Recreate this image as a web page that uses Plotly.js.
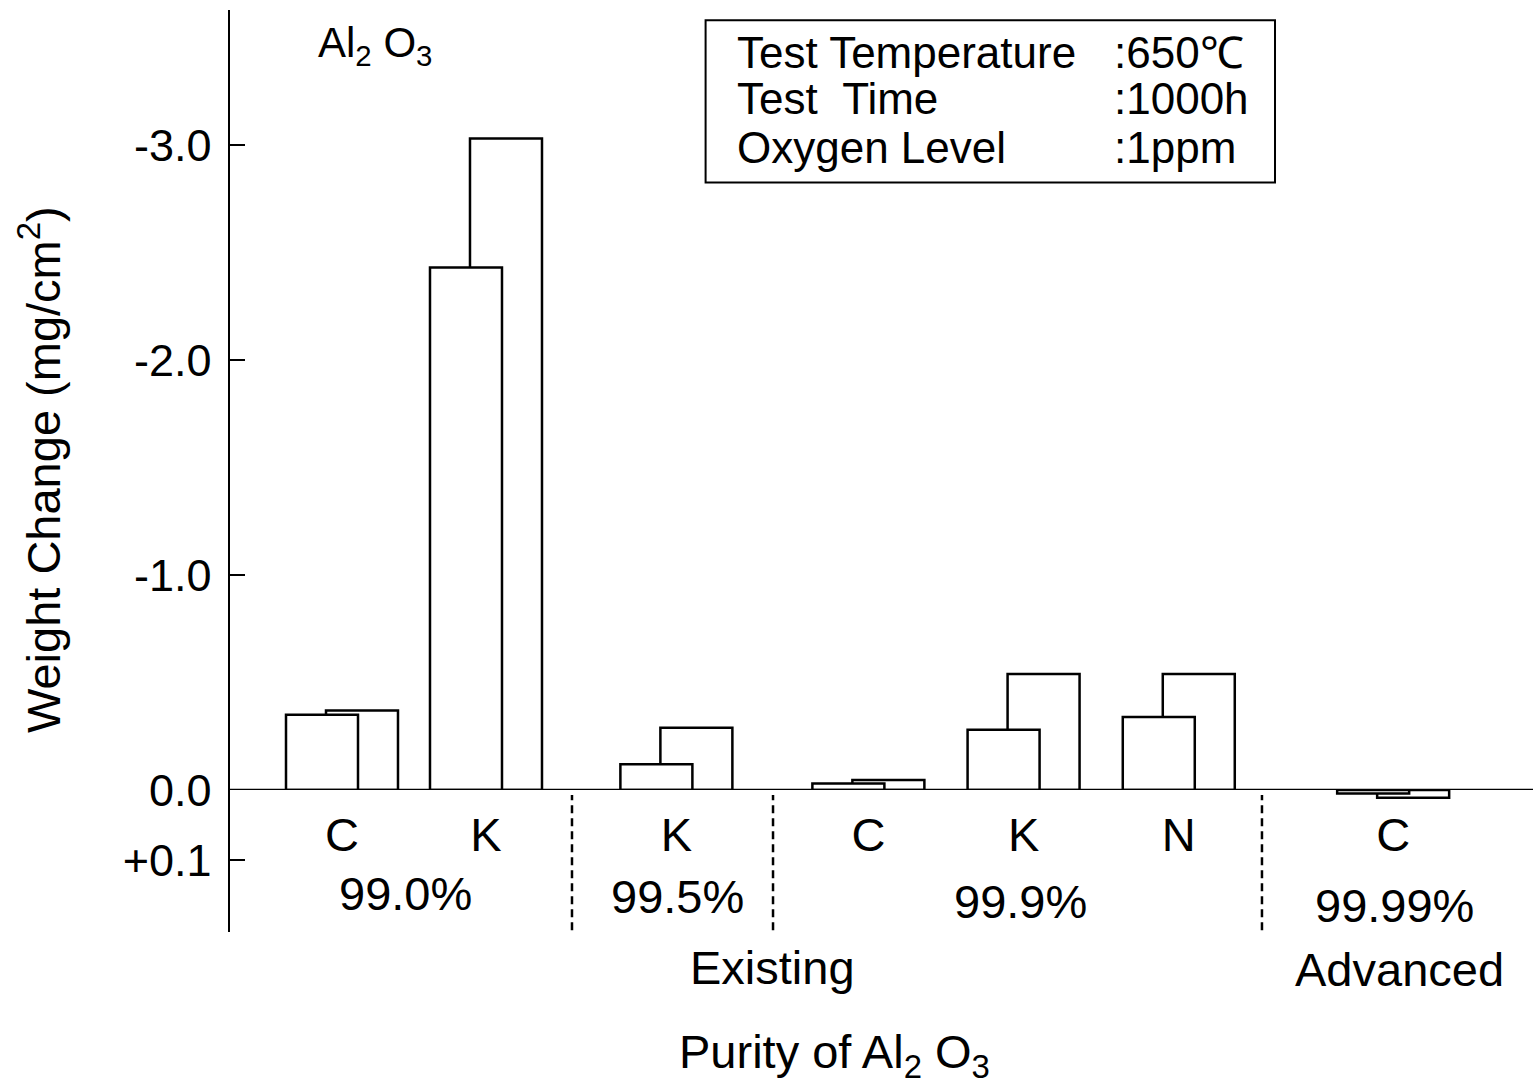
<!DOCTYPE html>
<html>
<head>
<meta charset="utf-8">
<script src="https://cdn.plot.ly/plotly-3.0.1.min.js"></script>
<style>html,body{margin:0;padding:0;background:#fff;}#chart{width:1533px;height:1091px;}</style>
</head>
<body>
<div id="chart"></div>
<script>
// ---- data ----
const categories = ['C', 'K', 'K', 'C', 'K', 'N', 'C'];
const purityGroups = ['99.0%', '99.5%', '99.9%', '99.99%'];
const classGroups = ['Existing', 'Advanced'];
// weight change (mg/cm2); negative = weight loss (drawn upward)
const seriesFront = [-0.35, -2.43, -0.12, -0.03, -0.28, -0.34, 0.005];
const seriesBack  = [-0.37, -3.03, -0.29, -0.047, -0.54, -0.54, 0.011];
const yTickVals = [-3, -2, -1, 0];
const yTickText = ['-3.0', '-2.0', '-1.0', '0.0'];
const y2TickVals = [0.1];
const y2TickText = ['+0.1'];
const xTitle = 'Purity of Al<sub>2</sub> O<sub>3</sub>';
const yTitle = 'Weight Change (mg/cm<sup>2</sup>)';

// ---- layout positions (not data) ----
const xPos = [0.70, 1.60, 2.79, 3.99, 4.96, 5.93, 7.27];
const purityLabelPos = [[1.094, 0.042], [2.794, 0.038], [4.94, 0.033], [7.28, 0.029]];
const classLabelPos = [[3.39, -0.038], [7.31, -0.041]];
const separators = [2.1375, 3.394, 6.45];

const FONT = 'Liberation Sans, Arial, sans-serif';
const barLine = {color: '#000', width: 2.5};

function neg(a) { return a.map(v => v <= 0 ? v : null); }
function pos(a) { return a.map(v => v > 0 ? v : null); }

const common = {type: 'bar', x: xPos, width: 0.45, marker: {color: '#fff', line: barLine}, hoverinfo: 'y', showlegend: false};
const traces = [
  Object.assign({}, common, {y: neg(seriesBack), offset: -0.1, yaxis: 'y', name: 'back'}),
  Object.assign({}, common, {y: pos(seriesBack), offset: -0.1, yaxis: 'y2', name: 'back+'}),
  Object.assign({}, common, {y: neg(seriesFront), offset: -0.35, yaxis: 'y', name: 'front'}),
  Object.assign({}, common, {y: pos(seriesFront), offset: -0.35, yaxis: 'y2', name: 'front+'})
];

const annotations = [];
purityGroups.forEach((t, i) => annotations.push({text: t, x: purityLabelPos[i][0], y: purityLabelPos[i][1], xref: 'x', yref: 'paper', showarrow: false, xanchor: 'center', yanchor: 'middle', font: {size: 47}}));
classGroups.forEach((t, i) => annotations.push({text: t, x: classLabelPos[i][0], y: classLabelPos[i][1], xref: 'x', yref: 'paper', showarrow: false, xanchor: 'center', yanchor: 'middle', font: {size: 47}}));
annotations.push({text: 'Al<sub>2</sub> O<sub>3</sub>', x: 0.906, y: 0.962, xref: 'x', yref: 'paper', showarrow: false, xanchor: 'center', yanchor: 'middle', font: {size: 42}});
annotations.push({text: xTitle, x: 0.4643, y: -0.1334, xref: 'paper', yref: 'paper', showarrow: false, xanchor: 'center', yanchor: 'middle', font: {size: 47}});
annotations.push({text: yTitle, x: -0.1458, y: 0.501, xref: 'paper', yref: 'paper', showarrow: false, xanchor: 'center', yanchor: 'middle', textangle: -90, font: {size: 47}});
const boxLeft = ['Test Temperature', 'Test&nbsp;&nbsp;Time', 'Oxygen Level'];
const boxRight = [':650℃', ':1000h', ':1ppm'];
const boxY = [0.954, 0.9045, 0.851];
boxLeft.forEach((t, i) => {
  annotations.push({text: t, x: 0.3876, y: boxY[i], xref: 'paper', yref: 'paper', showarrow: false, xanchor: 'left', yanchor: 'middle', font: {size: 44}});
  annotations.push({text: boxRight[i], x: 0.677, y: boxY[i], xref: 'paper', yref: 'paper', showarrow: false, xanchor: 'left', yanchor: 'middle', font: {size: 44}});
});

const shapes = [
  {type: 'line', xref: 'paper', yref: 'y', x0: 0, x1: 1, y0: 0, y1: 0, line: {color: '#000', width: 2.5}},
  {type: 'rect', xref: 'paper', yref: 'paper', x0: 0.365, x1: 0.802, y0: 0.813, y1: 0.989, line: {color: '#000', width: 2}}
];
separators.forEach(x => shapes.push({type: 'line', xref: 'x', yref: 'paper', x0: x, x1: x, y0: 0.002, y1: 0.1486, line: {color: '#000', width: 2.5, dash: '8px,5px'}}));

const axisCommon = {showgrid: false, zeroline: false, showline: true, linecolor: '#000', linewidth: 2.5, ticks: 'inside', ticklen: 15, tickwidth: 2.5, tickcolor: '#000', tickfont: {size: 45}, ticklabelstandoff: 7};

const layout = {
  width: 1533, height: 1091,
  margin: {l: 230, r: 0, t: 10, b: 159},
  paper_bgcolor: '#fff', plot_bgcolor: '#fff',
  font: {family: FONT, color: '#000'},
  barmode: 'overlay',
  xaxis: {range: [0, 8.144], anchor: 'free', position: 0.1399, showline: false, showgrid: false, zeroline: false, ticks: '', tickmode: 'array', tickvals: xPos, ticktext: categories, tickfont: {size: 47}},
  yaxis: Object.assign({}, axisCommon, {domain: [0.154, 1], range: [0, -3.628], tickmode: 'array', tickvals: yTickVals, ticktext: yTickText}),
  yaxis2: Object.assign({}, axisCommon, {domain: [0, 0.154], range: [0.2026, 0], tickmode: 'array', tickvals: y2TickVals, ticktext: y2TickText, anchor: 'x'}),
  annotations: annotations,
  shapes: shapes
};

Plotly.newPlot('chart', traces, layout, {displayModeBar: false, staticPlot: true});
</script>
</body>
</html>
